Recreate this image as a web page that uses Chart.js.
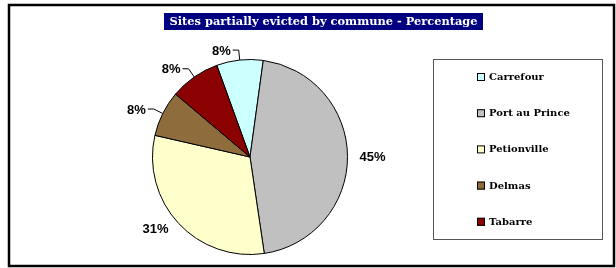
<!DOCTYPE html>
<html><head><meta charset="utf-8">
<script src="https://cdn.jsdelivr.net/npm/chart.js@4.4.0/dist/chart.umd.min.js"></script>
<style>html,body{margin:0;padding:0;background:#fff;}canvas{display:block;}</style>
</head><body>
<canvas id="c" width="616" height="268"></canvas>
<script>
const communes = ['Carrefour', 'Port au Prince', 'Petionville', 'Delmas', 'Tabarre'];
const percentages = [7.7, 45.49, 30.9, 7.6, 8.31];
const sliceColors = ['#CCFFFF', '#C0C0C0', '#FFFFCC', '#8F6C3C', '#8B0000'];
const chartTitle = 'Sites partially evicted by commune - Percentage';

const total = percentages.reduce((a, b) => a + b, 0);

const decorPlugin = {
  id: 'decor',
  afterDatasetsDraw(chart) {
    const ctx = chart.ctx;
    const meta = chart.getDatasetMeta(0);
    ctx.save();
    // data labels
    ctx.font = 'bold 13px "Liberation Sans", Arial, sans-serif';
    ctx.fillStyle = '#000';
    ctx.strokeStyle = '#000';
    ctx.lineWidth = 1;
    ctx.textBaseline = 'middle';
    meta.data.forEach((arc, i) => {
      const p = arc.getProps(['x', 'y', 'startAngle', 'endAngle', 'outerRadius'], true);
      const mid = (p.startAngle + p.endAngle) / 2;
      const c = Math.cos(mid), s = Math.sin(mid);
      const txt = Math.round(percentages[i] / total * 100) + '%';
      const left = c < 0;
      ctx.textAlign = left ? 'right' : 'left';
      if (percentages[i] / total < 0.1) {
        const ex = p.x + c * (p.outerRadius + 10), ey = p.y + s * (p.outerRadius + 10);
        const hx = ex + (left ? -6 : 6);
        ctx.beginPath();
        ctx.moveTo(p.x + c * p.outerRadius, p.y + s * p.outerRadius);
        ctx.lineTo(ex, ey);
        ctx.lineTo(hx, ey);
        ctx.stroke();
        ctx.fillText(txt, hx + (left ? -2 : 2), ey + 1);
      } else {
        const ax = p.x + c * (p.outerRadius + 8), ay = p.y + s * (p.outerRadius + 8);
        ctx.fillText(txt, ax + (left ? -4 : 4), ay + 1);
      }
    });
    // title box
    ctx.fillStyle = '#000080';
    ctx.fillRect(164, 13, 319, 17);
    ctx.fillStyle = '#fff';
    ctx.textAlign = 'center';
    ctx.font = 'bold 11.4px "DejaVu Serif", serif';
    ctx.fillText(chartTitle, 323.5, 22);
    // legend box
    ctx.strokeStyle = '#555';
    ctx.lineWidth = 1;
    ctx.strokeRect(433.5, 59.5, 169, 180);
    ctx.font = 'bold 10px "DejaVu Serif", serif';
    ctx.textAlign = 'left';
    communes.forEach((name, i) => {
      const cy = 77 + 36.2 * i;
      ctx.fillStyle = sliceColors[i];
      ctx.fillRect(477, cy - 4, 8, 8);
      ctx.strokeStyle = '#000';
      ctx.strokeRect(477.5, cy - 3.5, 7, 7);
      ctx.fillStyle = '#000';
      ctx.fillText(name, 489, cy + 0.5);
    });
    // outer border
    ctx.strokeStyle = '#000';
    ctx.lineWidth = 2.5;
    ctx.strokeRect(9, 5, 605, 261);
    ctx.restore();
  }
};

new Chart(document.getElementById('c'), {
  type: 'pie',
  data: {
    labels: communes,
    datasets: [{
      data: percentages,
      backgroundColor: sliceColors,
      borderColor: '#000',
      borderWidth: 1
    }]
  },
  options: {
    responsive: false,
    animation: false,
    events: [],
    rotation: -19.9,
    layout: { padding: { left: 152, right: 268, top: 59, bottom: 13 } },
    plugins: { legend: { display: false }, tooltip: { enabled: false }, title: { display: false } }
  },
  plugins: [decorPlugin]
});
</script>
</body></html>
